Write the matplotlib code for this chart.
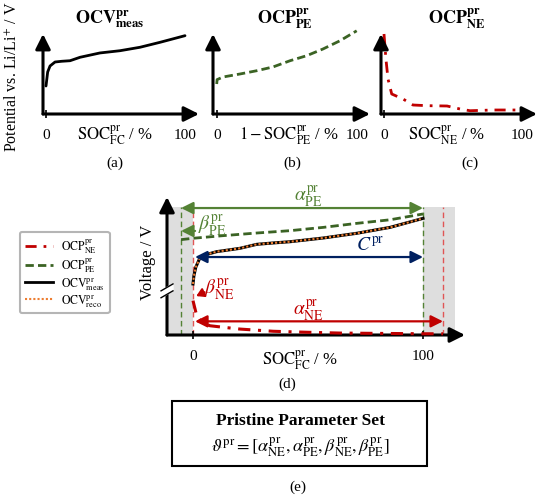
import matplotlib
matplotlib.use('Agg')
import matplotlib.pyplot as plt
from matplotlib.lines import Line2D
from matplotlib.patches import Rectangle, Polygon

plt.rcParams['font.family'] = ['Liberation Serif', 'DejaVu Serif']
plt.rcParams['mathtext.fontset'] = 'stix'

W, H = 539, 502

# (a) measured full-cell OCV, normalised potential over SOC in %
soc_a = [0, 1.2, 2.9, 6.5, 11.3, 17.3, 24.5, 38.8, 53.2, 67.6, 82.0, 100]
ocv_a = [0.35, 0.525, 0.60, 0.65, 0.659, 0.666, 0.709, 0.763, 0.791, 0.834, 0.896, 0.979]

# (b) positive electrode OCP
soc_b = [0, 0.3, 4.5, 16.6, 28.6, 40.2, 52.4, 64.3, 75.9, 88.1, 100]
ocp_pe_b = [0.375, 0.43, 0.4625, 0.50, 0.541, 0.588, 0.666, 0.729, 0.8125, 0.916, 1.04]

# (c) negative electrode OCP
soc_c = [0, 1.4, 2.9, 5.6, 13.8, 21.0, 31.2, 45.7, 55.1, 62.3, 79.0, 98.6]
ocp_ne_c = [1.0, 0.6875, 0.4375, 0.25, 0.1875, 0.1125, 0.104, 0.10, 0.0625, 0.041, 0.05, 0.05]

# (d) fitted electrode curves on the full-cell SOC axis
soc_pe_d = [-5.2, 0.1, 13.2, 27.7, 42.2, 56.7, 71.2, 85.7, 100]
ocp_pe_d = [0.691, 0.701, 0.720, 0.739, 0.756, 0.780, 0.809, 0.835, 0.877]
soc_meas_d = [0, 0.4, 1.2, 2.8, 5.2, 10.3, 20.4, 27.7, 34.9, 42.2, 56.7, 71.2, 85.7, 100]
ocv_meas_d = [0.370, 0.430, 0.491, 0.551, 0.580, 0.604, 0.628, 0.657, 0.667, 0.676, 0.703, 0.737, 0.780, 0.845]
ocv_reco_d = list(ocv_meas_d)
soc_ne_d = [0, 0.9, 1.6, 3.8, 7.4, 13.2, 20.4, 34.9, 49.4, 63.9, 78.4, 100, 108.7]
ocp_ne_d = [0.249, 0.188, 0.140, 0.092, 0.067, 0.056, 0.043, 0.027, 0.020, 0.014, 0.012, 0.009, 0.009]

# electrode windows in % of full-cell capacity
pe_start, pe_end = -5.2, 100.0
ne_start, ne_end = 0.0, 108.7

tick_values = [0, 100]
tick_labels = ['0', '100']

RED = '#c00000'
GREEN = '#548235'
DKGREEN = '#3b6324'
BLUE = '#002060'
ORANGE = '#ed7d31'
NE_STYLE = (0, (4, 2.5, 1, 2.5))
PE_STYLE = (0, (3, 1.5))


def px_box(x0, y0, x1, y1):
    return [x0 / W, 1 - y1 / H, (x1 - x0) / W, (y1 - y0) / H]


def fig_text(fig, x, y, s, **kw):
    kw.setdefault('ha', 'center')
    kw.setdefault('va', 'center')
    fig.text(x / W, 1 - y / H, s, **kw)


def make_panel(fig, x_axis, x_tip, y_tip, y_origin, x0, x100):
    ax = fig.add_axes(px_box(x_axis, y_tip, x_tip, y_origin))
    k = (x100 - x0) / 100.0
    ax.set_xlim((x_axis - x0) / k, (x_tip - x0) / k)
    ax.set_ylim(0, 1)
    for sp in ax.spines.values():
        sp.set_visible(False)
    ax.set_yticks([])
    ax.set_xticks(tick_values)
    ax.set_xticklabels(tick_labels)
    ax.tick_params(axis='x', direction='inout', length=6, width=1.2, pad=7, labelsize=11)
    kw = dict(arrowstyle='-|>,head_length=0.6,head_width=0.3', lw=2.2, color='k',
              shrinkA=0, shrinkB=0, mutation_scale=15)
    ax.annotate('', xy=(1, 0), xytext=(0, 0), xycoords='axes fraction', arrowprops=kw)
    ax.annotate('', xy=(0, 1), xytext=(0, 0), xycoords='axes fraction', arrowprops=kw)
    ax.patch.set_alpha(0)
    return ax


def main():
    fig = plt.figure(figsize=(W / 100, H / 100), dpi=100)

    # top row
    ax_a = make_panel(fig, 43, 199, 35, 115, 46, 185)
    ax_a.plot(soc_a, ocv_a, color='k', lw=2, clip_on=False, solid_capstyle='round')
    ax_b = make_panel(fig, 213, 370, 35, 115, 216.7, 356.7)
    ax_b.plot(soc_b, ocp_pe_b, color=DKGREEN, lw=2, ls=PE_STYLE, clip_on=False)
    ax_c = make_panel(fig, 381, 537, 35, 115, 384, 522)
    ax_c.plot(soc_c, ocp_ne_c, color=RED, lw=2, ls=NE_STYLE, clip_on=False)

    bold = dict(fontsize=13)
    fig_text(fig, 110, 19, r'$\mathbf{OCV}_{\mathbf{meas}}^{\mathbf{pr}}$', **bold)
    fig_text(fig, 285, 19, r'$\mathbf{OCP}_{\mathbf{PE}}^{\mathbf{pr}}$', **bold)
    fig_text(fig, 457, 19, r'$\mathbf{OCP}_{\mathbf{NE}}^{\mathbf{pr}}$', **bold)

    fig_text(fig, 12, 77, r'Potential vs. Li/Li$^{+}$ / V', rotation=90, fontsize=11.5)
    fig_text(fig, 115, 135, r'$\mathrm{SOC}_{\mathrm{FC}}^{\mathrm{pr}}$ / %', fontsize=12)
    fig_text(fig, 289, 135, r'$1 - \mathrm{SOC}_{\mathrm{PE}}^{\mathrm{pr}}$ / %', fontsize=12)
    fig_text(fig, 447, 135, r'$\mathrm{SOC}_{\mathrm{NE}}^{\mathrm{pr}}$ / %', fontsize=12)
    fig_text(fig, 115, 163, '(a)', fontsize=11)
    fig_text(fig, 292, 163, '(b)', fontsize=11)
    fig_text(fig, 470, 163, '(c)', fontsize=11)

    # (d) combined view
    ax = make_panel(fig, 167, 465, 198, 336, 193, 423)
    x_left = ax.get_xlim()[0]
    top = 0.928
    ax.add_patch(Rectangle((x_left, 0), ne_start - x_left, top, facecolor='#dedede',
                           edgecolor='none', zorder=0))
    ax.add_patch(Rectangle((pe_end, 0), 113.9 - pe_end, top, facecolor='#dedede',
                           edgecolor='none', zorder=0))
    for xv in (pe_start, pe_end):
        ax.plot([xv, xv], [0, top], color=GREEN, lw=1, ls=(0, (4, 2.5)), zorder=1)
    for xv in (ne_start, ne_end):
        ax.plot([xv, xv], [0, top], color='#e05555', lw=1, ls=(0, (4, 2.5)), zorder=1)

    ax.plot(soc_pe_d, ocp_pe_d, color=DKGREEN, lw=2, ls=PE_STYLE, zorder=3)
    ax.plot(soc_meas_d, ocv_meas_d, color='k', lw=2.2, zorder=3)
    ax.plot(soc_meas_d, ocv_reco_d, color=ORANGE, lw=1.5, ls=(0, (1, 1)), zorder=4)
    ax.plot(soc_ne_d, ocp_ne_d, color=RED, lw=2.2, ls=NE_STYLE, zorder=3, clip_on=False)

    def dim(x0, x1, y, color, style):
        ax.annotate('', xy=(x1, y), xytext=(x0, y),
                    arrowprops=dict(arrowstyle=style + ',head_length=0.6,head_width=0.3',
                                    color=color, lw=1.6, shrinkA=0, shrinkB=0,
                                    mutation_scale=12), zorder=5)

    dim(pe_start, pe_end, 0.92, GREEN, '<|-|>')
    dim(ne_start + 0.9, pe_start, 0.754, GREEN, '-|>')
    dim(ne_start + 0.9, pe_end, 0.565, BLUE, '<|-|>')
    dim(ne_start + 0.9, ne_end, 0.099, RED, '<|-|>')
    ax.annotate('', xy=(1.4, 0.282), xytext=(5.0, 0.31),
                arrowprops=dict(arrowstyle='-|>,head_length=0.5,head_width=0.3',
                                color=RED, lw=1.5, shrinkA=0, shrinkB=0, mutation_scale=9))

    lab = dict(ha='center', va='center', fontsize=14)
    ax.text(50, 1.01, r'$\alpha_{\mathrm{PE}}^{\mathrm{pr}}$', color=GREEN, **lab)
    ax.text(8.5, 0.80, r'$\beta_{\mathrm{PE}}^{\mathrm{pr}}$', color=GREEN, **lab)
    ax.text(77, 0.66, r'$C^{\mathrm{pr}}$', color=BLUE, **lab)
    ax.text(11.5, 0.333, r'$\beta_{\mathrm{NE}}^{\mathrm{pr}}$', color=RED, **lab)
    ax.text(50, 0.18, r'$\alpha_{\mathrm{NE}}^{\mathrm{pr}}$', color=RED, **lab)

    # axis break on the voltage axis
    brk = ax.transAxes
    ax.add_patch(Polygon([(-0.02, 0.32), (0.02, 0.37), (0.02, 0.32), (-0.02, 0.27)],
                         closed=True, transform=brk, color='white', clip_on=False, zorder=6))
    for yb in (0.32, 0.37):
        ax.plot([-0.02, 0.02], [yb - 0.05, yb], transform=brk, color='k', lw=1,
                clip_on=False, zorder=7)

    fig_text(fig, 148, 262, 'Voltage / V', rotation=90, fontsize=12)
    fig_text(fig, 300, 360, r'$\mathrm{SOC}_{\mathrm{FC}}^{\mathrm{pr}}$ / %', fontsize=12)
    fig_text(fig, 287, 384, '(d)', fontsize=11)

    handles = [
        Line2D([], [], color=RED, lw=2, ls=NE_STYLE),
        Line2D([], [], color=DKGREEN, lw=2, ls=PE_STYLE),
        Line2D([], [], color='k', lw=2),
        Line2D([], [], color=ORANGE, lw=1.5, ls=(0, (1, 1))),
    ]
    labels = [r'$\mathrm{OCP}_{\mathrm{NE}}^{\mathrm{pr}}$',
              r'$\mathrm{OCP}_{\mathrm{PE}}^{\mathrm{pr}}$',
              r'$\mathrm{OCV}_{\mathrm{meas}}^{\mathrm{pr}}$',
              r'$\mathrm{OCV}_{\mathrm{reco}}^{\mathrm{pr}}$']
    leg = fig.legend(handles, labels, loc='upper left', bbox_to_anchor=(20 / W, 1 - 233 / H),
                     fontsize=8.5, handlelength=2.4, labelspacing=0.1, borderpad=0.4,
                     handletextpad=0.7, borderaxespad=0, fancybox=True, framealpha=1)
    leg.get_frame().set_edgecolor('#b5b5b5')
    leg.get_frame().set_linewidth(1.5)

    # (e) parameter set
    fig.patches.append(Rectangle((172 / W, 1 - 467 / H), 255 / W, 65 / H, fill=False,
                                 edgecolor='k', lw=1.5, transform=fig.transFigure))
    fig_text(fig, 300, 421, 'Pristine Parameter Set', fontsize=12.5, fontweight='bold')
    fig_text(fig, 300, 447,
             r'$\vartheta^{\mathrm{pr}} = [\alpha_{\mathrm{NE}}^{\mathrm{pr}}, '
             r'\alpha_{\mathrm{PE}}^{\mathrm{pr}}, \beta_{\mathrm{NE}}^{\mathrm{pr}}, '
             r'\beta_{\mathrm{PE}}^{\mathrm{pr}}]$', fontsize=13)
    fig_text(fig, 298, 487, '(e)', fontsize=11)

    fig.savefig('out.png', dpi=100)


if __name__ == '__main__':
    main()
